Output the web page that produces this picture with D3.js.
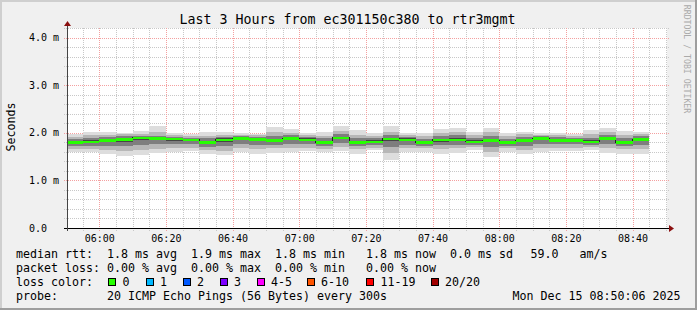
<!DOCTYPE html>
<html>
<head>
<meta charset="utf-8">
<script src="https://cdn.jsdelivr.net/npm/d3@7/dist/d3.min.js"></script>
<style>
  body { margin: 0; background: #f0f0f0; }
  svg { display: block; }
  text { font-family: "DejaVu Sans Mono", monospace; white-space: pre; }
</style>
</head>
<body>
<svg width="697" height="310"></svg>
<script>
// 5 minute steps, start time of each step
const times = ["05:50","05:55","06:00","06:05","06:10","06:15","06:20","06:25","06:30","06:35",
  "06:40","06:45","06:50","06:55","07:00","07:05","07:10","07:15","07:20","07:25",
  "07:30","07:35","07:40","07:45","07:50","07:55","08:00","08:05","08:10","08:15",
  "08:20","08:25","08:30","08:35","08:40"];

// median rtt (ms)
const median = [1.80,1.81,1.84,1.86,1.90,1.88,1.87,1.85,1.80,1.85,1.88,1.86,1.84,1.88,1.855,1.80,1.90,1.80,1.81,1.875,1.855,1.80,1.85,1.855,1.81,1.84,1.80,1.845,1.88,1.84,1.84,1.81,1.885,1.80,1.86];

// sorted pings (ms), smoke edges
const ping01 = [1.60,1.60,1.56,1.52,1.54,1.57,1.59,1.61,1.55,1.53,1.60,1.55,1.58,1.60,1.62,1.59,1.62,1.56,1.63,1.43,1.59,1.60,1.56,1.58,1.645,1.49,1.60,1.55,1.60,1.62,1.62,1.645,1.575,1.56,1.56];
const ping03 = [1.66,1.66,1.64,1.62,1.64,1.66,1.69,1.69,1.64,1.62,1.68,1.65,1.67,1.68,1.69,1.66,1.71,1.65,1.69,1.57,1.67,1.67,1.66,1.67,1.70,1.60,1.67,1.64,1.69,1.69,1.69,1.70,1.67,1.65,1.66];
const ping06 = [1.72,1.73,1.72,1.72,1.74,1.76,1.77,1.76,1.71,1.72,1.76,1.74,1.75,1.76,1.76,1.72,1.79,1.72,1.74,1.70,1.75,1.73,1.74,1.75,1.75,1.71,1.73,1.73,1.77,1.76,1.76,1.75,1.76,1.72,1.75];
const ping09 = [1.77,1.78,1.80,1.81,1.84,1.85,1.83,1.82,1.77,1.81,1.84,1.82,1.81,1.84,1.82,1.77,1.86,1.78,1.79,1.82,1.82,1.78,1.81,1.82,1.79,1.80,1.77,1.81,1.85,1.81,1.81,1.79,1.84,1.77,1.83];
const ping12 = [1.82,1.84,1.86,1.89,1.91,1.90,1.89,1.87,1.83,1.88,1.90,1.88,1.87,1.90,1.88,1.83,1.92,1.83,1.84,1.90,1.88,1.82,1.87,1.88,1.84,1.87,1.82,1.87,1.90,1.86,1.86,1.84,1.91,1.83,1.89];
const ping15 = [1.86,1.89,1.91,1.93,1.94,1.94,1.92,1.90,1.88,1.92,1.93,1.92,1.93,1.95,1.91,1.88,1.97,1.89,1.89,1.95,1.92,1.87,1.93,1.95,1.89,1.94,1.87,1.92,1.93,1.91,1.90,1.90,1.96,1.89,1.94];
const ping18 = [1.92,1.95,1.96,1.97,1.98,2.02,1.95,1.93,1.94,1.96,1.96,1.95,2.01,2.00,1.95,1.94,2.03,1.96,1.94,2.02,1.96,1.93,1.99,2.02,1.95,2.02,1.93,1.97,1.96,1.95,1.94,1.97,2.02,1.96,1.98];
const ping20 = [1.98,2.01,2.02,2.00,2.03,2.14,1.99,1.97,2.02,2.02,1.99,1.98,2.13,2.08,1.99,2.02,2.15,2.05,1.99,2.15,2.00,2.00,2.07,2.10,2.02,2.11,2.00,2.02,2.00,2.00,1.98,2.05,2.09,2.04,2.01];

const xTickLabels = ["06:00","06:20","06:40","07:00","07:20","07:40","08:00","08:20","08:40"];
const yTickValues = [0, 1, 2, 3, 4];
const yTickLabels = ["0.0", "1.0 m", "2.0 m", "3.0 m", "4.0 m"];

const lossLabels = ["0", "1", "2", "3", "4-5", "6-10", "11-19", "20/20"];
const lossColors = ["#26ff00", "#00b8ff", "#0059ff", "#7e00ff", "#ff00ff", "#ff5500", "#ff0000", "#a10000"];

const rttStats = ["1.8 ms avg", "1.9 ms max", "1.8 ms min", "1.8 ms now", "0.0 ms sd", "59.0", "am/s"];
const lossStats = ["0.00 % avg", "0.00 % max", "0.00 % min", "0.00 % now"];

const W = 697, H = 310;
const plot = { left: 67, right: 667, top: 28, bottom: 228 };
const svg = d3.select("svg");

// background + 3d frame
svg.append("rect").attr("width", W).attr("height", H).attr("fill", "#f0f0f0");
svg.append("path").attr("d", `M0,0H${W}V2H2V${H}H0Z`).attr("fill", "#cfcfcf");
svg.append("path").attr("d", `M${W},0V${H}H0V${H - 2}H${W - 2}V0Z`).attr("fill", "#9e9e9e");

const parse = d3.timeParse("%H:%M");
const t0 = d3.timeSecond.offset(parse("05:50"), 20);
const t1 = d3.timeHour.offset(t0, 3);
const x = d3.scaleTime().domain([t0, t1]).range([plot.left, plot.right]);
const y = d3.scaleLinear().domain([0, 4.2]).range([plot.bottom, plot.top]);

svg.append("rect")
  .attr("x", plot.left).attr("y", plot.top)
  .attr("width", plot.right - plot.left).attr("height", plot.bottom - plot.top)
  .attr("fill", "#ffffff");

svg.append("clipPath").attr("id", "clip").append("rect")
  .attr("x", plot.left).attr("y", plot.top)
  .attr("width", plot.right - plot.left).attr("height", plot.bottom - plot.top);

// grid
const grid = svg.append("g").attr("shape-rendering", "crispEdges");
const minorY = d3.range(1, 22).map(i => i * 0.2).filter(v => Math.abs(v - Math.round(v)) > 0.01);
grid.selectAll(".gy").data(minorY).enter().append("line")
  .attr("x1", plot.left - 3).attr("x2", plot.right + 2)
  .attr("y1", d => Math.round(y(d)) + 0.5).attr("y2", d => Math.round(y(d)) + 0.5)
  .attr("stroke", "#c8c8c8").attr("stroke-dasharray", "1,1");
const minorX = x.ticks(d3.timeMinute.every(5)).filter(d => d.getMinutes() % 20 !== 0);
grid.selectAll(".gx").data(minorX).enter().append("line")
  .attr("x1", d => Math.round(x(d)) + 0.5).attr("x2", d => Math.round(x(d)) + 0.5)
  .attr("y1", plot.top).attr("y2", plot.bottom + 3)
  .attr("stroke", "#c8c8c8").attr("stroke-dasharray", "1,1");
grid.selectAll(".my").data(yTickValues.slice(1)).enter().append("line")
  .attr("x1", plot.left - 3).attr("x2", plot.right + 2)
  .attr("y1", d => Math.round(y(d)) + 0.5).attr("y2", d => Math.round(y(d)) + 0.5)
  .attr("stroke", "#f4a0a0").attr("stroke-dasharray", "1,1");
const majorX = xTickLabels.map(parse);
grid.selectAll(".mx").data(majorX).enter().append("line")
  .attr("x1", d => Math.round(x(d)) + 0.5).attr("x2", d => Math.round(x(d)) + 0.5)
  .attr("y1", plot.top).attr("y2", plot.bottom + 3)
  .attr("stroke", "#f4a0a0").attr("stroke-dasharray", "1,1");

// smoke
const bars = times.map((t, i) => ({ start: parse(t), end: d3.timeMinute.offset(parse(t), 5), i }));
const layers = [
  [ping01, ping20, "#dddddd"],
  [ping03, ping18, "#b7b7b7"],
  [ping06, ping15, "#7e7e7e"],
  [ping09, ping12, "#454545"]
];
const smoke = svg.append("g").attr("clip-path", "url(#clip)").attr("shape-rendering", "crispEdges");
layers.forEach(([lo, hi, color]) => {
  smoke.append("g").selectAll("rect").data(bars).enter().append("rect")
    .attr("x", d => x(d.start))
    .attr("width", d => x(d.end) - x(d.start))
    .attr("y", d => y(hi[d.i]))
    .attr("height", d => y(lo[d.i]) - y(hi[d.i]))
    .attr("fill", color);
});

// median line + loss colored band
const pts = bars.map(d => [x(d.start), y(median[d.i])]);
pts.push([x(bars[bars.length - 1].end), y(median[median.length - 1])]);
smoke.append("path")
  .attr("d", d3.line().curve(d3.curveStepAfter)(pts))
  .attr("fill", "none").attr("stroke", "#202020").attr("stroke-width", 1);
smoke.append("g").selectAll("rect").data(bars).enter().append("rect")
  .attr("x", d => x(d.start))
  .attr("width", d => x(d.end) - x(d.start))
  .attr("y", d => y(median[d.i]) - 1)
  .attr("height", 2.5)
  .attr("fill", lossColors[0]);

// axes
svg.append("line")
  .attr("x1", plot.left - 3).attr("x2", plot.right + 2)
  .attr("y1", plot.bottom + 0.5).attr("y2", plot.bottom + 0.5)
  .attr("stroke", "#000").attr("shape-rendering", "crispEdges");
svg.append("line")
  .attr("x1", plot.left + 0.5).attr("x2", plot.left + 0.5)
  .attr("y1", plot.bottom + 3).attr("y2", plot.top - 4)
  .attr("stroke", "#444").attr("shape-rendering", "crispEdges");
svg.append("path").attr("d", `M${plot.right + 2},${plot.bottom - 3}L${plot.right + 7},${plot.bottom + 0.5}L${plot.right + 2},${plot.bottom + 4}Z`).attr("fill", "#8b1010");
svg.append("path").attr("d", `M${plot.left - 3},${plot.top - 2}L${plot.left + 0.5},${plot.top - 7}L${plot.left + 4},${plot.top - 2}Z`).attr("fill", "#8b1010");

// tick labels
svg.selectAll(".yl").data(yTickValues).enter().append("text")
  .attr("x", 29).attr("y", d => y(d) + 3.6)
  .attr("font-size", 10).attr("fill", "#000")
  .text((d, i) => yTickLabels[i]);
svg.selectAll(".xl").data(majorX).enter().append("text")
  .attr("x", d => x(d) + 0.5).attr("y", 241.5)
  .attr("text-anchor", "middle").attr("font-size", 10).attr("fill", "#000")
  .text((d, i) => xTickLabels[i]);

// title & labels
svg.append("text").attr("x", 347.5).attr("y", 24).attr("text-anchor", "middle")
  .attr("font-size", 13.3).attr("fill", "#000")
  .text("Last 3 Hours from ec301150c380 to rtr3mgmt");
svg.append("text").attr("transform", "translate(15,127) rotate(-90)").attr("text-anchor", "middle")
  .attr("font-size", 11.6).attr("fill", "#000").text("Seconds");
svg.append("text").attr("transform", "translate(684,59) rotate(90)").attr("text-anchor", "middle")
  .attr("font-size", 8.2).attr("fill", "#aaaaaa").text("RRDTOOL / TOBI OETIKER");

// legend
const leg = svg.append("g").attr("font-size", 11.63).attr("fill", "#000");
const rowY = [258, 272, 286, 300];
const col = c => 16 + c * 7;
leg.append("text").attr("x", col(0)).attr("y", rowY[0]).text("median rtt:");
[13, 25, 37, 50, 62, 73.5, 80.5].forEach((c, i) => leg.append("text").attr("x", col(c)).attr("y", rowY[0]).text(rttStats[i]));
leg.append("text").attr("x", col(0)).attr("y", rowY[1]).text("packet loss:");
[13, 25, 37, 50].forEach((c, i) => leg.append("text").attr("x", col(c)).attr("y", rowY[1]).text(lossStats[i]));
leg.append("text").attr("x", col(0)).attr("y", rowY[2]).text("loss color:");
const boxX = [108, 145.5, 182.5, 219.5, 256.5, 306.5, 366, 430.5];
lossLabels.forEach((l, i) => {
  leg.append("rect").attr("x", Math.round(boxX[i]) + 0.5).attr("y", 278.5).attr("width", 7).attr("height", 7)
    .attr("fill", lossColors[i]).attr("stroke", "#000").attr("stroke-width", 1);
  leg.append("text").attr("x", boxX[i] + 14.5).attr("y", rowY[2]).text(l);
});
leg.append("text").attr("x", col(0)).attr("y", rowY[3]).text("probe:");
leg.append("text").attr("x", col(13)).attr("y", rowY[3]).text("20 ICMP Echo Pings (56 Bytes) every 300s");
leg.append("text").attr("x", 512.5).attr("y", rowY[3]).text("Mon Dec 15 08:50:06 2025");
</script>
</body>
</html>
